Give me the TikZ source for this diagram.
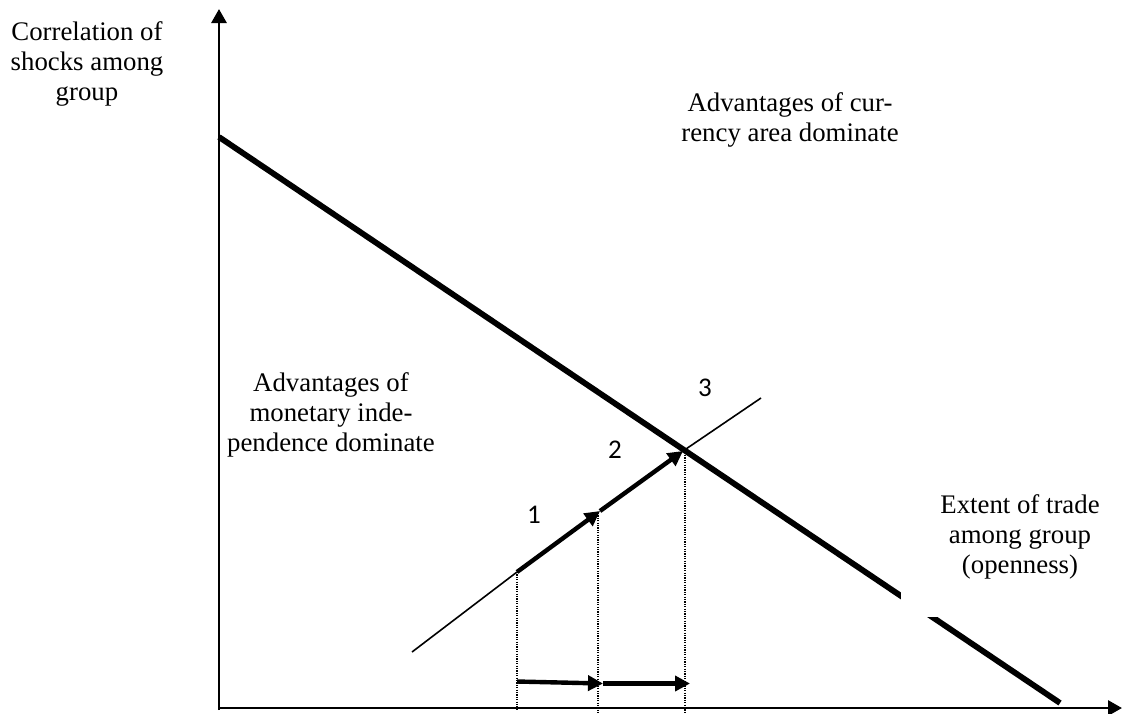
\documentclass[tikz,border=0pt]{standalone}
\usepackage{fontspec}
\setmainfont{Liberation Serif}
\newfontfamily\numfont{Carlito}
\usetikzlibrary{arrows.meta}
\begin{document}
\begin{tikzpicture}[x=0.5pt,y=-0.5pt,
  lbl/.style={align=center,font=\fontsize{13.4}{15.2}\selectfont,inner sep=0pt},
  num/.style={font=\numfont\fontsize{13.5}{15}\selectfont,inner sep=0pt},
  axisline/.style={line width=1.4pt,-{Triangle[width=7.5pt,length=7pt]}},
  mainline/.style={line width=2.9pt},
  thinline/.style={line width=0.8pt},
  movearrow/.style={line width=2.2pt,-{Triangle[width=7.5pt,length=7.5pt]}},
  guide/.style={line width=0.6pt,dash pattern=on 0.6pt off 0.6pt}
]
\useasboundingbox (0,0) rectangle (1123,713);
% coordinates
\coordinate (O) at (218,708);
\coordinate (Ytop) at (219,9);
\coordinate (Xend) at (1122,708);
\coordinate (L0) at (219,137);
\coordinate (L1) at (1060,703);
\coordinate (A) at (412,652);
\coordinate (B) at (517,572);
\coordinate (C) at (600,511);
\coordinate (D) at (683,451);
\coordinate (E) at (761,398);
\coordinate (Bb) at (517,710);
\coordinate (Cb) at (598,713);
\coordinate (Db) at (685,713);
\coordinate (Ct) at (598,513);
\coordinate (Dt) at (685,455);
\coordinate (F) at (517,681.5);
\coordinate (G) at (603,683.5);
\coordinate (H) at (690,683.5);
% main boundary line
\draw[mainline] (L0) -- (L1);
\fill[white] (901,580) rectangle (940,617);
% guides
\draw[guide] (B) -- (Bb);
\draw[guide] (Ct) -- (Cb);
\draw[guide] (Dt) -- (Db);
% thin line and moves
\draw[thinline] (A) -- (B);
\draw[thinline] (D) -- (E);
\draw[movearrow] (B) -- (C);
\draw[movearrow] (C) -- (D);
\draw[movearrow] (F) -- (G);
\draw[movearrow] (G) -- (H);
% axes
\draw[axisline] (219,710) -- (Ytop);
\draw[axisline] (O) -- (Xend);
% labels
\node[lbl] (corr) at (87,64) {Correlation of\\shocks among\\group};
\node[lbl] (cur) at (790,120) {Advantages of cur-\\rency area dominate};
\node[lbl] (mon) at (331,415) {Advantages of\\monetary inde-\\pendence dominate};
\node[lbl] (ext) at (1020,537) {Extent of trade\\among group\\(openness)};
\node[num] (n1) at (534,515) {1};
\node[num] (n2) at (615,450) {2};
\node[num] (n3) at (705,388) {3};
\end{tikzpicture}
\end{document}
